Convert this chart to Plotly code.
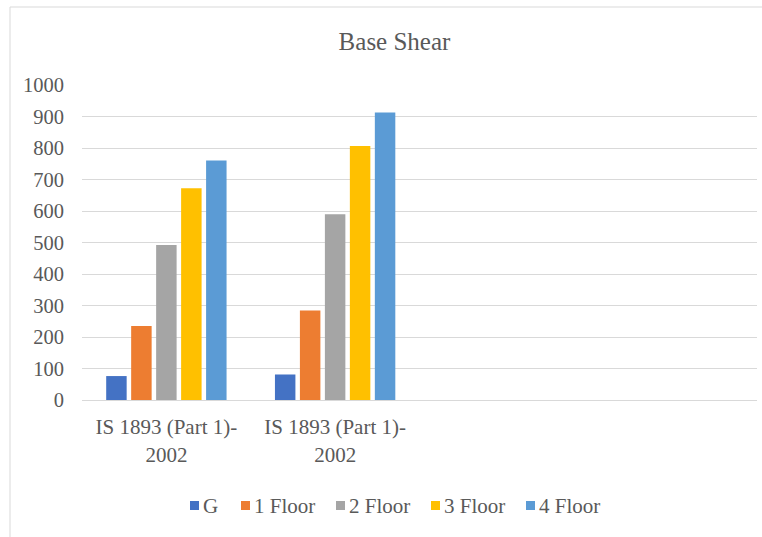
import plotly.graph_objects as go

categories = ["IS 1893 (Part 1)-<br>2002", "IS 1893 (Part 1)-<br>2002", "", ""]
series_names = ["G", "1 Floor", "2 Floor", "3 Floor", "4 Floor"]
values_G = [76, 81]
values_1 = [235, 284]
values_2 = [492, 590]
values_3 = [672, 806]
values_4 = [760, 913]
colors = ["#4472C4", "#ED7D31", "#A5A5A5", "#FFC000", "#5B9BD5"]

all_values = [values_G, values_1, values_2, values_3, values_4]
xpos = list(range(len(values_G)))

W, H = 762, 537
L, R, T, B = 82, 5, 85, 137
PW, PH = W - L - R, H - T - B

def px_x(x):
    return (x - L) / PW

def px_y(y):
    return (H - B - y) / PH

fig = go.Figure()
for name, vals, col in zip(series_names, all_values, colors):
    fig.add_trace(go.Bar(x=xpos, y=vals, name=name, showlegend=False,
                         marker=dict(color=col, line=dict(width=0))))

font_family = "Liberation Serif, Times New Roman, serif"
text_color = "#595959"
fig.update_layout(
    width=W, height=H,
    paper_bgcolor="white", plot_bgcolor="white",
    margin=dict(l=L, r=R, t=T, b=B),
    title=dict(text="Base Shear", xref="container", x=394.5 / W, xanchor="center",
               yref="container", y=1 - 41 / H, yanchor="middle",
               font=dict(family=font_family, size=25, color=text_color)),
    barmode="group", bargap=0.26, bargroupgap=0.18,
    showlegend=False,
    font=dict(family=font_family, color=text_color),
)
fig.update_xaxes(
    range=[-0.5, len(categories) - 0.5],
    tickmode="array", tickvals=list(range(len(categories))), ticktext=categories,
    tickfont=dict(family=font_family, size=21, color=text_color),
    showgrid=False, showline=True, linecolor="#d9d9d9", linewidth=1,
    ticks="", zeroline=False, ticklabelstandoff=8,
)
fig.update_yaxes(
    range=[0, 1000], dtick=100, showgrid=True, gridcolor="#d9d9d9", gridwidth=1,
    tickfont=dict(family=font_family, size=20.5, color=text_color),
    showline=False, zeroline=False, ticks="", ticklabelstandoff=17,
)

# manual legend (squares + real text labels)
legend_square_left_px = [190, 241, 336, 431, 526]
for name, col, sx in zip(series_names, colors, legend_square_left_px):
    fig.add_shape(type="rect", xref="paper", yref="paper",
                  x0=px_x(sx), x1=px_x(sx + 9), y0=px_y(510), y1=px_y(501),
                  fillcolor=col, line=dict(width=0))
    fig.add_annotation(text=name, xref="paper", yref="paper", x=px_x(sx + 11), y=px_y(506),
                       xanchor="left", yanchor="middle", showarrow=False,
                       font=dict(family=font_family, size=21, color=text_color))

# chart area border
fig.add_shape(type="rect", xref="paper", yref="paper",
              x0=px_x(10), x1=px_x(775), y0=px_y(550), y1=px_y(7),
              line=dict(color="#d9d9d9", width=1), fillcolor="rgba(0,0,0,0)", layer="below")

fig.write_html("out.html", config={"displayModeBar": False},
               post_script="document.body.style.margin='0px';")
